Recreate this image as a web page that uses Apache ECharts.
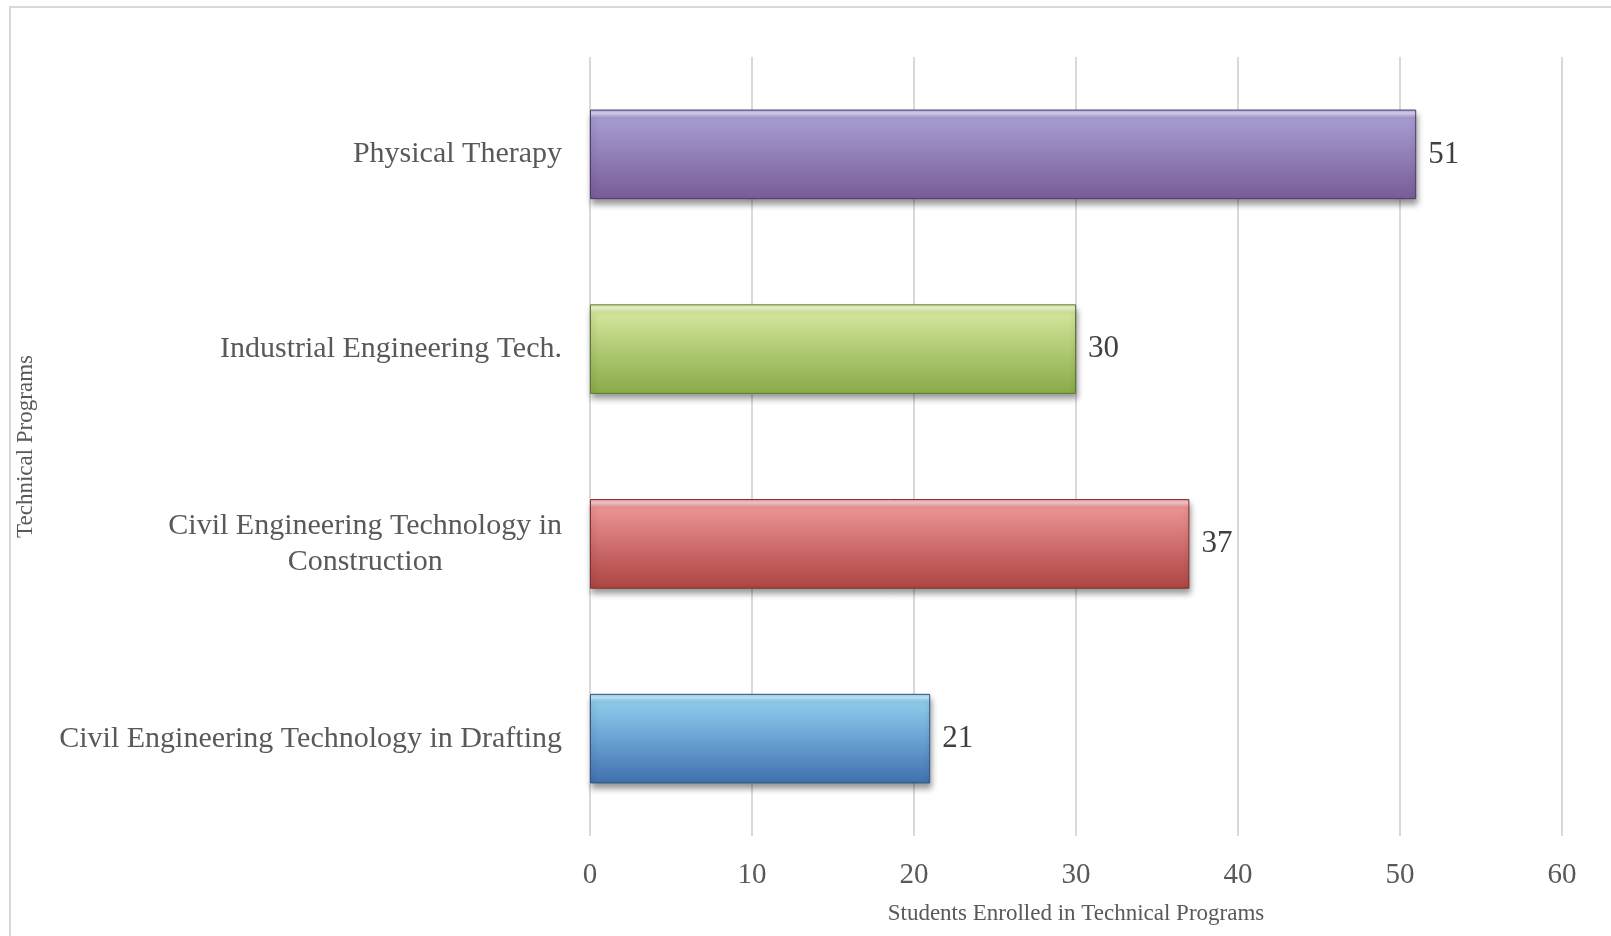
<!DOCTYPE html>
<html>
<head>
<meta charset="utf-8">
<script src="https://cdn.jsdelivr.net/npm/echarts@6/dist/echarts.min.js"></script>
<style>
html,body{margin:0;padding:0;background:#fff;}
#chart{width:1611px;height:936px;}
</style>
</head>
<body>
<div id="chart"></div>
<script>
var categories = [
  'Civil Engineering Technology in Drafting',
  'Civil Engineering Technology in\nConstruction',
  'Industrial Engineering Tech.',
  'Physical Therapy'
];
var enrolled = [21, 37, 30, 51];
var xTicks = [0, 10, 20, 30, 40, 50, 60];
var xAxisTitle = 'Students Enrolled in Technical Programs';
var yAxisTitle = 'Technical Programs';

var barStyles = [
  {hi: '#c7e6f7', top: '#8ecbeb', mid: '#6ba3d3', bot: '#3f70ad', edge: '#2e5583'},
  {hi: '#f7caca', top: '#ec9494', mid: '#cf6f6e', bot: '#ad4542', edge: '#7d2e2d'},
  {hi: '#eef5cf', top: '#d4e69d', mid: '#b0cb74', bot: '#8aaa48', edge: '#5f7a2e'},
  {hi: '#dcd5f3', top: '#a89cd2', mid: '#9180b8', bot: '#785b97', edge: '#4e3a66'}
];

var chart = echarts.init(document.getElementById('chart'));
var textColor = '#595959';
var serif = '"Liberation Serif", "DejaVu Serif", serif';

var data = enrolled.map(function (v, i) {
  var s = barStyles[i];
  return {
    value: v,
    itemStyle: {
      color: new echarts.graphic.LinearGradient(0, 0, 0, 1, [
        {offset: 0, color: s.top},
        {offset: 0.04, color: s.hi},
        {offset: 0.09, color: s.top},
        {offset: 0.5, color: s.mid},
        {offset: 1, color: s.bot}
      ]),
      borderColor: s.edge,
      borderWidth: 1,
      shadowColor: 'rgba(0,0,0,0.4)',
      shadowBlur: 6,
      shadowOffsetY: 5,
      shadowOffsetX: 1
    }
  };
});

chart.setOption({
  animation: false,
  backgroundColor: '#ffffff',
  graphic: [{
    type: 'rect',
    shape: {x: 10, y: 7, width: 1700, height: 1000},
    style: {fill: 'none', stroke: '#d9d9d9', lineWidth: 2},
    z: -10
  }],
  grid: {left: 590, right: 49, top: 57, bottom: 100, containLabel: false},
  xAxis: {
    type: 'value',
    min: xTicks[0],
    max: xTicks[xTicks.length - 1],
    interval: xTicks[1] - xTicks[0],
    name: xAxisTitle,
    nameLocation: 'middle',
    nameGap: 66,
    nameTextStyle: {fontFamily: serif, fontSize: 23, color: textColor},
    axisLine: {show: false},
    axisTick: {show: false},
    axisLabel: {fontFamily: serif, fontSize: 29, color: textColor, margin: 25},
    splitLine: {show: true, lineStyle: {color: '#d9d9d9', width: 2}}
  },
  yAxis: {
    type: 'category',
    data: categories,
    name: yAxisTitle,
    nameLocation: 'middle',
    nameGap: 553,
    nameRotate: 90,
    nameTextStyle: {fontFamily: serif, fontSize: 23, color: textColor},
    axisLine: {show: false},
    axisTick: {show: false},
    axisLabel: {
      fontFamily: serif, fontSize: 30, color: textColor, margin: 28, align: 'right', lineHeight: 36,
      formatter: function (v) {
        return v.split('\n').map(function (line) { return '{c|' + line + '}'; }).join('\n');
      },
      rich: {c: {align: 'center', fontFamily: serif, fontSize: 30, color: textColor, lineHeight: 36}}
    },
    splitLine: {show: false}
  },
  series: [{
    type: 'bar',
    data: data,
    barWidth: '46%',
    label: {
      show: true,
      position: 'right',
      distance: 12,
      fontFamily: serif,
      fontSize: 31,
      color: '#404040'
    }
  }]
});
</script>
</body>
</html>
